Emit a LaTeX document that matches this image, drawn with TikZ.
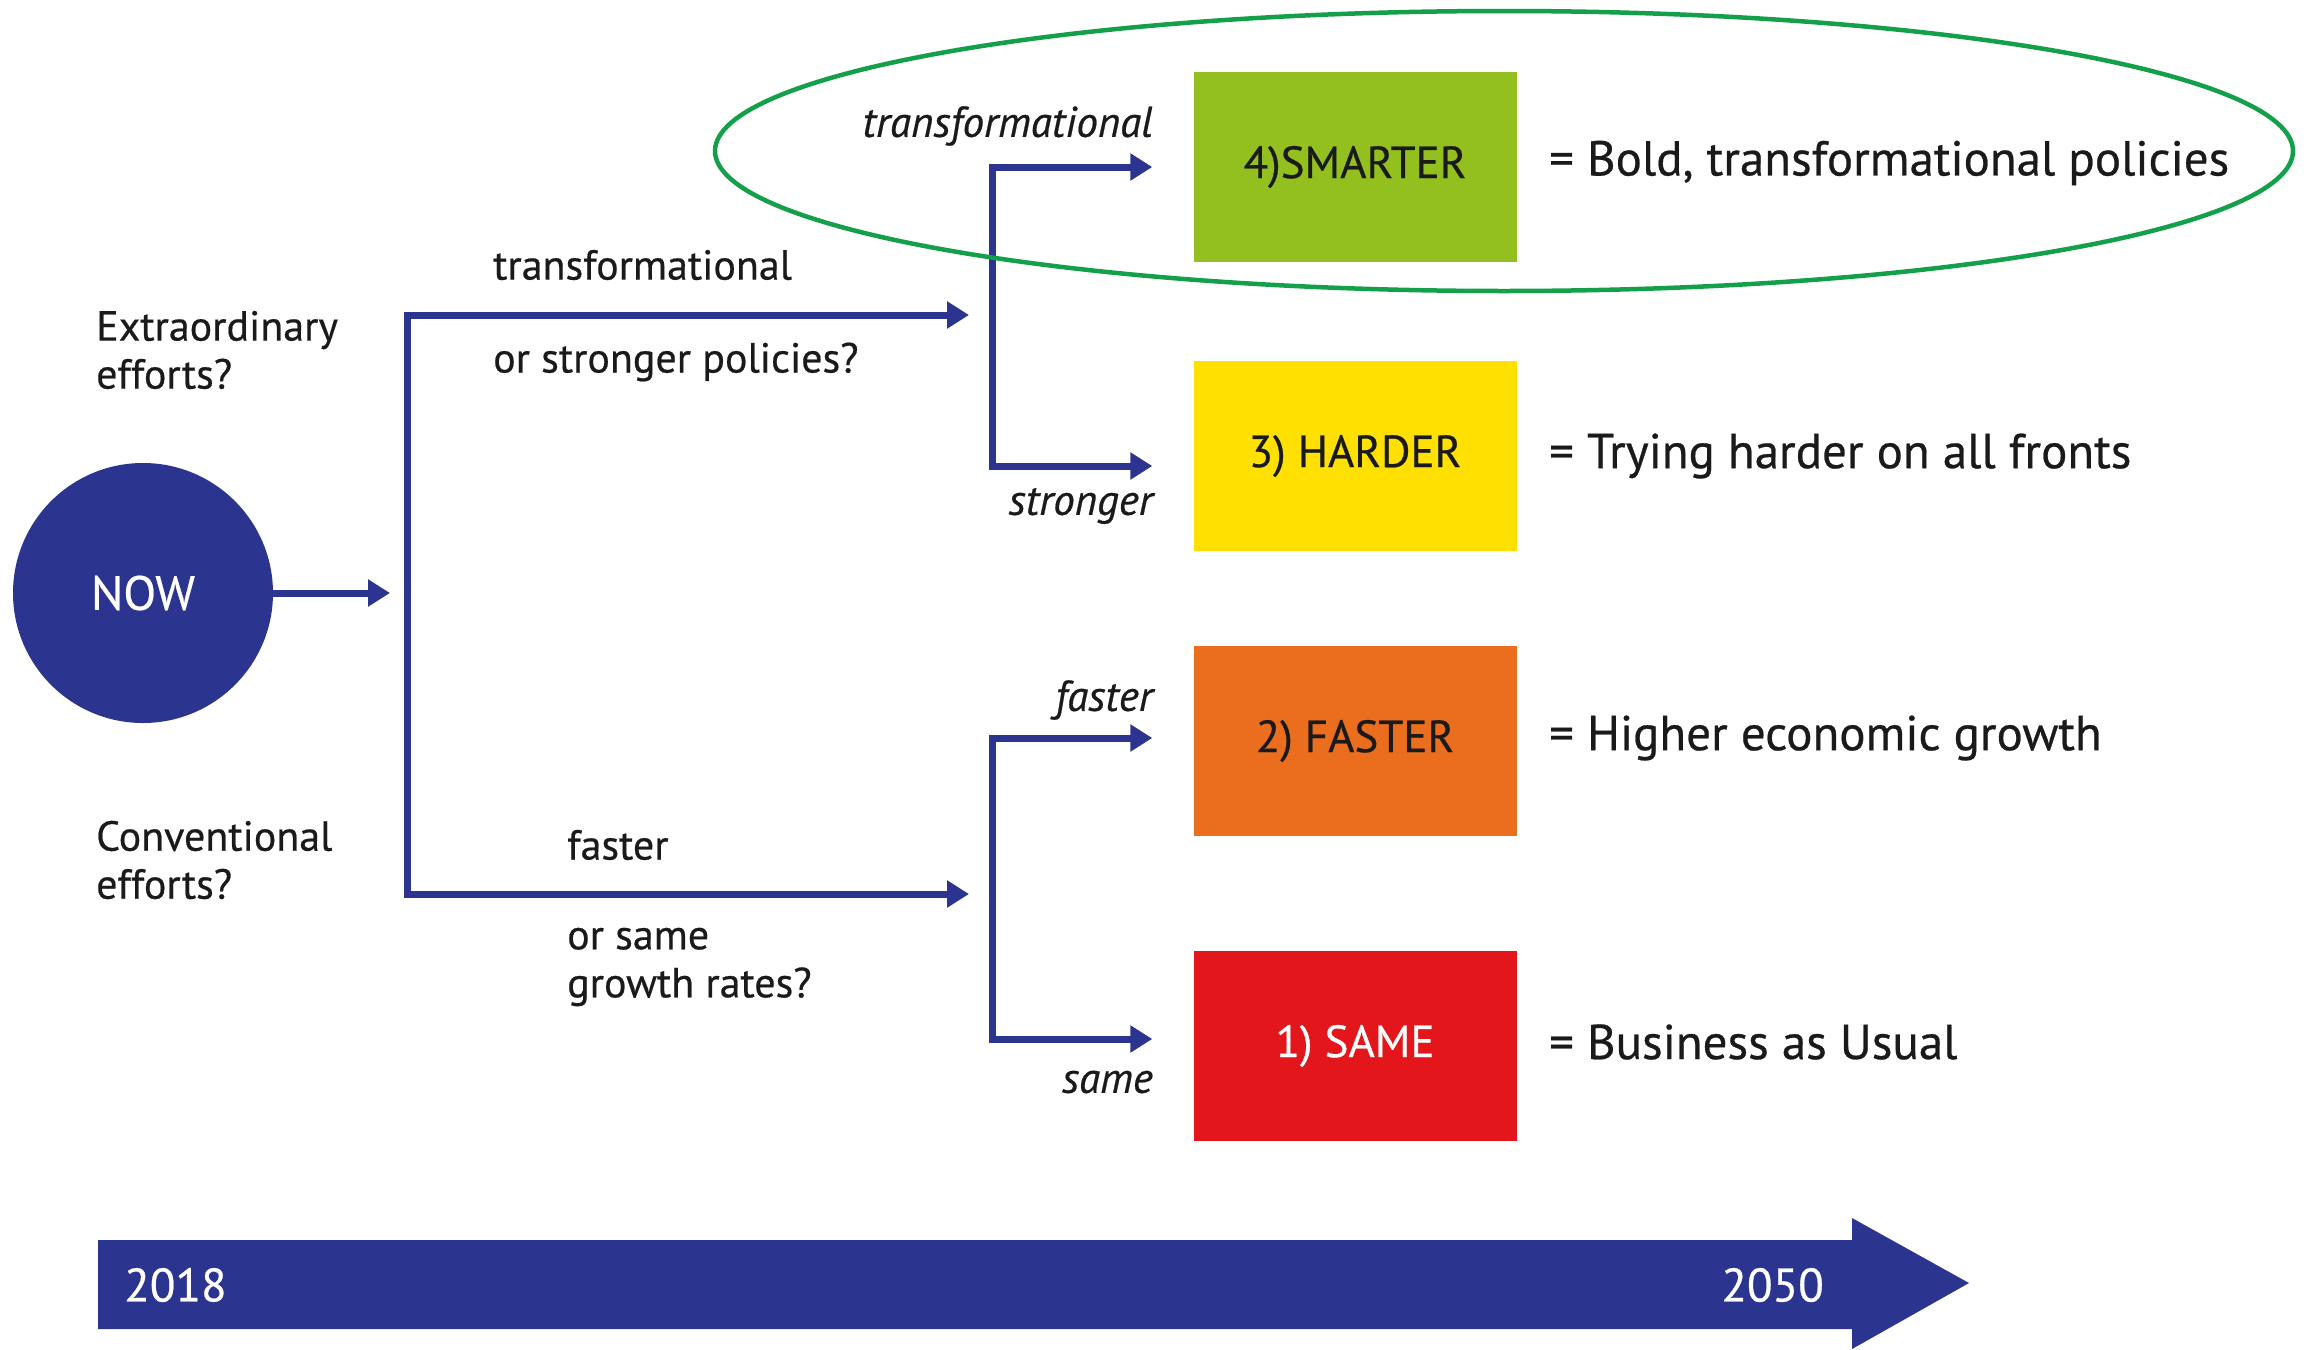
\documentclass[tikz,border=0pt]{standalone}
\usepackage{fontspec}
\setmainfont{PT Sans}[FakeBold=0.5]
\usetikzlibrary{arrows.meta,calc}
\definecolor{navy}{HTML}{2B3590}
\definecolor{cgreen}{HTML}{93C01F}
\definecolor{cyellow}{HTML}{FFE000}
\definecolor{corange}{HTML}{EA6E1E}
\definecolor{cred}{HTML}{E3161B}
\definecolor{ring}{HTML}{14A04A}
\definecolor{txt}{HTML}{1A1A1A}
\begin{document}
\begin{tikzpicture}[x=1pt,y=-1pt,
  flow/.style={draw=navy, line width=7pt, line join=miter},
  tip/.style={-{Triangle[length=22pt,width=26pt]}},
  tips/.style={{Triangle[length=22pt,width=26pt]}-{Triangle[length=22pt,width=26pt]}},
  lab/.style={font=\fontsize{42}{48}\selectfont, text=txt, inner sep=0pt, align=left},
  ilab/.style={font=\fontsize{43}{50}\selectfont\itshape, text=txt, inner sep=0pt, anchor=east},
  desc/.style={font=\fontsize{49}{56}\selectfont, text=txt, inner sep=0pt, anchor=west},
  box/.style={minimum width=323pt, minimum height=190pt, inner sep=0pt, font=\fontsize{45}{52}\selectfont, text=txt}]
\useasboundingbox (0,0) rectangle (2320,1349);
\fill[white] (0,0) rectangle (2320,1349);

% NOW circle
\node[circle, fill=navy, minimum size=260pt, inner sep=0pt, text=white, font=\fontsize{48}{54}\selectfont] (now) at (143,593) {NOW};
\coordinate (nowtip) at (390,593);
\draw[flow, tip] (now.east) -- (nowtip);

% main bracket
\coordinate (bt) at (407,315);
\coordinate (bb) at (407,894);
\coordinate (ut) at (969,315);
\coordinate (lt) at (969,894);
\draw[flow, tips] (ut) -- (bt) -- (bb) -- (lt);

% boxes
\node[box, fill=cgreen] (s4) at (1355,167) {4)SMARTER};
\node[box, fill=cyellow] (s3) at (1355,456) {3) HARDER};
\node[box, fill=corange] (s2) at (1355,741) {2) FASTER};
\node[box, fill=cred, text=white] (s1) at (1355,1046) {1) SAME};

% second level brackets
\draw[flow, tips, shorten <=41pt, shorten >=41pt] (s4.west) -- ++(-201,0) |- ($(s3.west)+(0,10)$);
\draw[flow, tips, shorten <=41pt, shorten >=41pt] ($(s2.west)+(0,-3)$) -- ++(-201,0) |- ($(s1.west)+(0,-7)$);

% left labels
\node[lab, anchor=west] (extra) at (96,350) {Extraordinary\\efforts?};
\node[lab, anchor=west] (conv) at (96,860) {Conventional\\efforts?};

% branch labels
\node[lab, anchor=west] (tr1) at (493,265) {transformational};
\node[lab, anchor=west] (sp) at (493,362) {or stronger policies?};
\node[lab, anchor=west] (fa1) at (567,845) {faster};
\node[lab, anchor=west] (sg) at (567,967) {or same\\growth rates?};

\node[ilab] (tr2) at (1153,126) {transformational};
\node[ilab] (st) at (1153,506) {stronger};
\node[ilab] (fa2) at (1153,700) {faster};
\node[ilab] (sa) at (1153,1082) {same};

% descriptions
\node[desc] (d4) at (1549,163) {= Bold, transformational policies};
\node[desc] (d3) at (1549,456) {= Trying harder on all fronts};
\node[desc] (d2) at (1549,738) {= Higher economic growth};
\node[desc] (d1) at (1549,1042) {= Business as Usual};

% highlight ellipse
\draw[ring, line width=4.5pt] (1504,151) ellipse [x radius=789, y radius=140];

% timeline
\fill[navy] (98,1240) -- (1852,1240) -- (1852,1218) -- (1969,1283) -- (1852,1349) -- (1852,1329) -- (98,1329) -- cycle;
\node[font=\fontsize{47}{52}\selectfont, text=white, anchor=west, inner sep=0pt] (y1) at (124,1285) {2018};
\node[font=\fontsize{47}{52}\selectfont, text=white, anchor=east, inner sep=0pt] (y2) at (1824,1285) {2050};
\end{tikzpicture}
\end{document}
